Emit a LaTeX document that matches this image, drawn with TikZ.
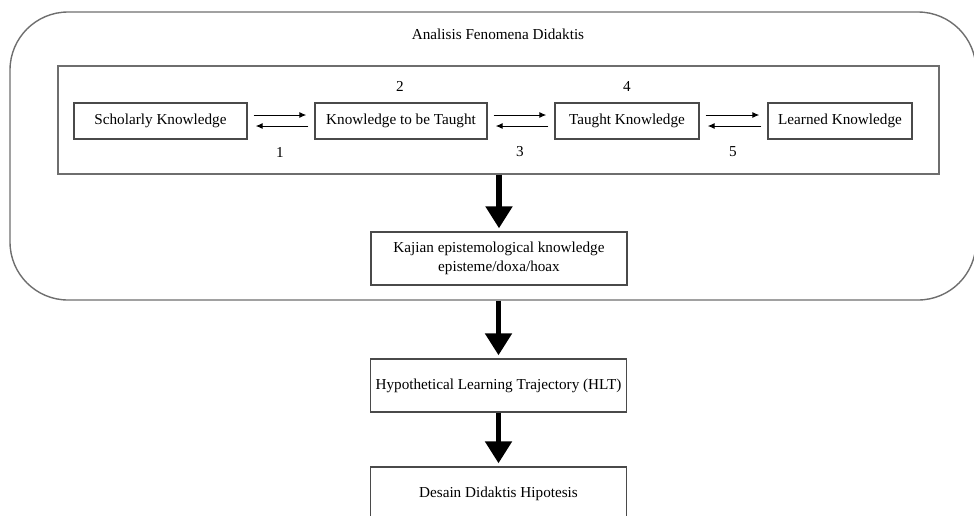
\documentclass[tikz,border=0pt]{standalone}
\usepackage{fontspec}
\setmainfont{Liberation Serif}
\usetikzlibrary{arrows.meta,positioning}
\definecolor{BoxLine}{HTML}{4a4a4a}
\definecolor{FrameLine}{HTML}{6e6e6e}
\tikzset{
  diagram style/.style={
    x=0.5pt, y=-0.5pt,
    font=\fontsize{7.6}{9.4}\selectfont,
  },
  know box/.style={
    draw=BoxLine, line width=0.7pt,
    inner sep=0pt, minimum height=18pt, minimum width=#1
  },
  stage box/.style={
    draw=BoxLine, line width=0.7pt, align=center,
    inner sep=0pt, minimum width=128pt, minimum height=26.5pt
  },
  frame/.style={
    draw=FrameLine, line width=0.7pt, inner sep=0pt
  },
  pair arrow/.style={
    -{Latex[length=3.5pt,width=3pt]}, line width=0.5pt,
    shorten <=3pt, shorten >=4pt
  },
  big arrow/.style={
    -{Triangle[length=11pt,width=13pt]}, line width=2.6pt,
    shorten >=1.5pt
  },
  num/.style={inner sep=0pt},
}

\begin{document}
\begin{tikzpicture}[diagram style]
  \path[use as bounding box, clip] (0,0) rectangle (974,515);
  % frames
  \node[frame, rounded corners=29pt, minimum width=483pt, minimum height=144pt] (ana) at (493,156) {};
  \node (title) at (498,34) {Analisis Fenomena Didaktis};
  \node[frame, minimum width=440.5pt, minimum height=54pt] (fen) at (498.5,120) {};
  % knowledge chain
  \node[know box=86.5pt] (sk) at (160.5,121) {Scholarly Knowledge};
  \node[know box=86pt]   (kt) at (401,121)   {Knowledge to be Taught};
  \node[know box=72pt]   (tk) at (627,121)   {Taught Knowledge};
  \node[know box=72pt]   (lk) at (840,121)   {Learned Knowledge};
  \draw[pair arrow] ([yshift=3pt]sk.east) -- ([yshift=3pt]kt.west);
  \draw[pair arrow] ([yshift=-2.5pt]kt.west) -- ([yshift=-2.5pt]sk.east);
  \draw[pair arrow] ([yshift=3pt]kt.east) -- ([yshift=3pt]tk.west);
  \draw[pair arrow] ([yshift=-2.5pt]tk.west) -- ([yshift=-2.5pt]kt.east);
  \draw[pair arrow] ([yshift=3pt]tk.east) -- ([yshift=3pt]lk.west);
  \draw[pair arrow] ([yshift=-2.5pt]lk.west) -- ([yshift=-2.5pt]tk.east);
  \node[num] (n1) at (280,152) {1};
  \node[num] (n2) at (400,86)  {2};
  \node[num] (n3) at (520,152) {3};
  \node[num] (n4) at (627,86)  {4};
  \node[num] (n5) at (733,152) {5};
  % stages
  \node[stage box] (kaj) at (499,258.5) {Kajian epistemological knowledge\\episteme/doxa/hoax};
  \node[stage box] (hlt) at (498.5,385.5) {Hypothetical Learning Trajectory (HLT)};
  \node[stage box] (des) at (498.5,493.5) {Desain Didaktis Hipotesis};
  \draw[big arrow] (fen.south -| kaj.north) -- (kaj.north);
  \draw[big arrow] (ana.south -| hlt.north) -- (hlt.north);
  \draw[big arrow] (hlt.south) -- (des.north);
\end{tikzpicture}
\end{document}
